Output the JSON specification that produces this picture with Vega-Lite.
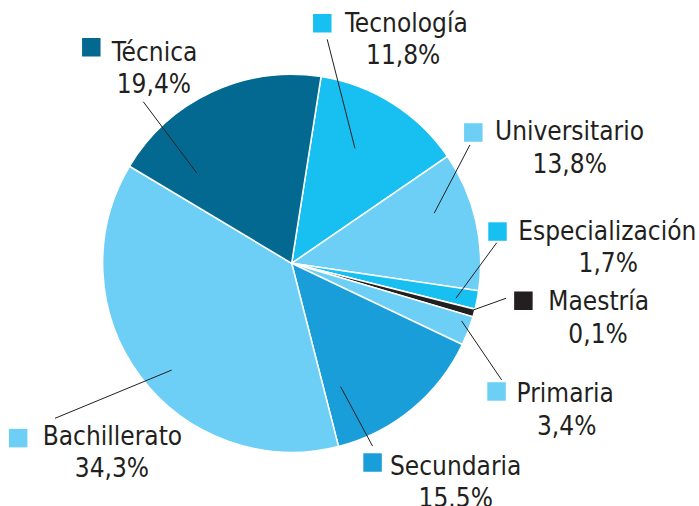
{
  "$schema": "https://vega.github.io/schema/vega-lite/v6.json",
  "width": 699,
  "height": 506,
  "padding": 0,
  "autosize": {"type": "none"},
  "background": "white",
  "config": {"view": {"stroke": null}},
  "data": {
    "values": [
      {"k": 1, "name": "Tecnología", "pct": "11,8%", "share": 12.94, "sx": 16.2, "sy": 127.0, "nx": 28.2, "ny": 122.5, "px": 59.0, "py": 105.4, "lx1": 18.8, "ly1": 118.5, "lx2": 33.5, "ly2": 60.8},
      {"k": 2, "name": "Universitario", "pct": "13,8%", "share": 11.89, "sx": 96.1, "sy": 69.2, "nx": 107.6, "ny": 65.2, "px": 147.1, "py": 47.9, "lx1": 94.3, "ly1": 62.6, "lx2": 75.4, "ly2": 26.5},
      {"k": 3, "name": "Especialización", "pct": "1,7%", "share": 1.58, "sx": 108.9, "sy": 16.8, "nx": 119.9, "ny": 12.3, "px": 167.5, "py": -4.8, "lx1": 108.5, "ly1": 10.9, "lx2": 86.9, "ly2": -18.5},
      {"k": 4, "name": "Maestría", "pct": "0,1%", "share": 0.67, "sx": 122.6, "sy": -19.8, "nx": 135.8, "ny": -24.7, "px": 162.1, "py": -42.3, "lx1": 113.4, "ly1": -18.5, "lx2": 96.1, "ly2": -24.7},
      {"k": 5, "name": "Primaria", "pct": "3,4%", "share": 2.5, "sx": 108.4, "sy": -67.8, "nx": 119.0, "ny": -73.5, "px": 145.5, "py": -90.8, "lx1": 111.1, "ly1": -61.7, "lx2": 89.9, "ly2": -30.5},
      {"k": 6, "name": "Secundaria", "pct": "15.5%", "share": 13.94, "sx": 42.8, "sy": -105.4, "nx": 52.0, "ny": -112.0, "px": 86.8, "py": -128.9, "lx1": 42.8, "ly1": -96.7, "lx2": 25.9, "ly2": -65.3},
      {"k": 7, "name": "Bachillerato", "pct": "34,3%", "share": 37.56, "sx": -144.7, "sy": -92.5, "nx": -131.7, "ny": -96.1, "px": -95.1, "py": -112.9, "lx1": -125.2, "ly1": -82.0, "lx2": -63.5, "ly2": -56.5},
      {"k": 8, "name": "Técnica", "pct": "19,4%", "share": 18.9, "sx": -106.0, "sy": 114.3, "nx": -95.2, "ny": 107.2, "px": -72.9, "py": 90.3, "lx1": -78.5, "ly1": 85.5, "lx2": -50.3, "ly2": 47.9}
    ]
  },
  "layer": [
    {
      "mark": {"type": "arc", "outerRadius": 189, "stroke": "white", "strokeWidth": 1.5},
      "encoding": {
        "theta": {"field": "share", "type": "quantitative", "stack": true, "scale": {"range": [0.1562, 6.4394]}},
        "order": {"field": "k", "type": "quantitative"},
        "color": {
          "field": "name", "type": "nominal", "legend": null,
          "scale": {
            "domain": ["Tecnología", "Universitario", "Especialización", "Maestría", "Primaria", "Secundaria", "Bachillerato", "Técnica"],
            "range": ["#17C0F1", "#6DCFF6", "#17C0F1", "#231F20", "#6DCFF6", "#1A9EDA", "#6DCFF6", "#036991"]
          }
        },
        "x": {"datum": 0, "type": "quantitative", "axis": null, "scale": {"domain": [-154.3, 215.5], "nice": false, "zero": false}},
        "y": {"datum": 0, "type": "quantitative", "axis": null, "scale": {"domain": [-128.4, 139.3], "nice": false, "zero": false}}
      }
    },
    {
      "mark": {"type": "rule", "color": "#231F20", "strokeWidth": 1},
      "encoding": {
        "x": {"field": "lx1", "type": "quantitative"},
        "y": {"field": "ly1", "type": "quantitative"},
        "x2": {"field": "lx2"},
        "y2": {"field": "ly2"}
      }
    },
    {
      "mark": {"type": "point", "shape": "square", "filled": true, "opacity": 1, "size": 342},
      "encoding": {
        "x": {"field": "sx", "type": "quantitative"},
        "y": {"field": "sy", "type": "quantitative"},
        "color": {"field": "name", "type": "nominal", "legend": null}
      }
    },
    {
      "mark": {"type": "text", "align": "left", "baseline": "alphabetic", "font": "DejaVu Sans Condensed", "fontSize": 26, "color": "#231F20"},
      "encoding": {
        "x": {"field": "nx", "type": "quantitative"},
        "y": {"field": "ny", "type": "quantitative"},
        "text": {"field": "name"}
      }
    },
    {
      "mark": {"type": "text", "align": "center", "baseline": "alphabetic", "font": "DejaVu Sans Condensed", "fontSize": 26, "color": "#231F20"},
      "encoding": {
        "x": {"field": "px", "type": "quantitative"},
        "y": {"field": "py", "type": "quantitative"},
        "text": {"field": "pct"}
      }
    }
  ]
}
